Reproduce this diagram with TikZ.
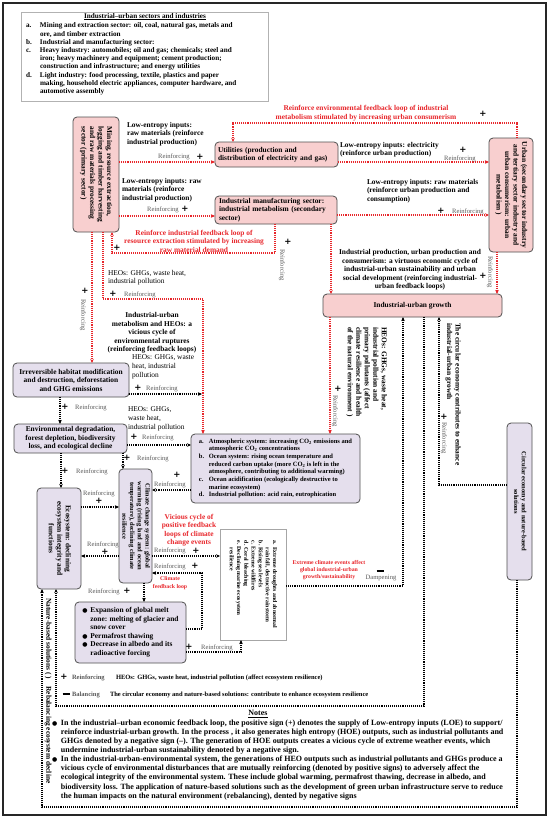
\documentclass[tikz,border=0pt]{standalone}
\usepackage{fontspec}
\setmainfont{Liberation Serif}
\newfontfamily\djv{DejaVu Sans}
\usepackage{graphicx}
\usetikzlibrary{arrows.meta}
\definecolor{rd}{HTML}{E8262B}
\definecolor{pk}{HTML}{F8CFCF}
\definecolor{lv}{HTML}{E5DFED}
\definecolor{gy}{HTML}{5A5A5A}
\definecolor{bd}{HTML}{505050}
\newcommand\fb{\fontsize{7.4}{8.5}\selectfont\bfseries}
\newcommand\fl{\fontsize{7.2}{8.2}\selectfont\bfseries}
\newcommand\fn{\fontsize{7.4}{8.8}\selectfont}
\newcommand\fre{\fontsize{6.6}{7.5}\selectfont}
\newcommand\fsm{\fontsize{6.5}{7.7}\selectfont\bfseries}
\newcommand\fxs{\fontsize{5.8}{7.2}\selectfont\bfseries}
\newcommand\fnt{\fontsize{8}{9.1}\selectfont\bfseries}
\newcommand\bul{{\djv\fontsize{6}{6}\selectfont ●}}
\newcommand\rtxt[2]{\rotatebox{-90}{\begin{tabular}{@{}#1@{}}#2\end{tabular}}}
\newcommand\dsh{\rule[2pt]{7pt}{1.3pt}}
\begin{document}
\begin{tikzpicture}[x=1pt,y=-1pt,
  every node/.style={inner sep=0pt,outer sep=0pt},
  pbox/.style={draw=bd,fill=pk,rounded corners=4pt,line width=0.8pt,font=\fb},
  lbox/.style={draw=bd,fill=lv,rounded corners=4pt,line width=0.8pt,font=\fb},
  rl/.style={draw=rd,densely dotted,line width=1.1pt,-{Stealth[length=4pt,width=3.5pt]}},
  kl/.style={draw=black,densely dotted,line width=1.1pt,-{Stealth[length=4pt,width=3.5pt]}},
  tb/.style={font=\fb,align=left},
  tc/.style={font=\fb,align=center},
  tn/.style={font=\fn,align=left},
  rf/.style={font=\fre,text=gy},
  ps/.style={font=\djv\fontsize{8.5}{8.5}\selectfont\bfseries},
  redtxt/.style={font=\fb,text=rd,align=center},
  redsm/.style={font=\fxs,text=rd,align=center}
]
\useasboundingbox (0,0) rectangle (550,820);
\fill[white] (0,0) rectangle (550,820);
\draw[line width=1.2pt,black!85] (3,3) rectangle (546,815);

% legend
\node[draw=gray!60,line width=0.8pt,minimum width=247,minimum height=89,anchor=north west] (leg) at (21,12) {};
\node[anchor=north west,font=\fl,align=left] (legtxt) at (26,13) {\makebox[238pt][c]{\underline{Industrial–urban sectors and industries}}\\[1pt]
\begin{tabular}{@{}p{14pt}@{}l@{}}a. & Mining and extraction sector: oil, coal, natural gas, metals and\\ & ore, and timber extraction\\ b. & Industrial and manufacturing sector:\\ c. & Heavy industry: automobiles; oil and gas; chemicals; steel and\\ & iron; heavy machinery and equipment; cement production;\\ & construction and infrastructure; and energy utilities\\ d. & Light industry: food processing,  textile, plastics and paper\\ & making, household electric appliances, computer hardware, and\\ & automotive assembly\end{tabular}};

% boxes
\node[pbox,minimum width=46,minimum height=115] (mining) at (96,174.5) {\rtxt{l}{Mining, resource extraction,\\logging and timber harvesting\\and raw materials processing\\sector (primary sector)}};
\node[pbox,minimum width=123,minimum height=25,text width=117,align=left] (util) at (276.5,154.5) {Utilities (production and\\distribution of electricity and gas)};
\node[pbox,minimum width=122,minimum height=28,text width=114,align=left] (mfg) at (276,210) {Industrial manufacturing sector:\\industrial metabolism (secondary\\sector)};
\node[pbox,minimum width=44,minimum height=114] (urban) at (511,195) {\rtxt{c}{Urban (secondary sector industry\\and tertiary sector industry and\\urban consumerism: urban\\metabolism )}};
\node[pbox,minimum width=179,minimum height=23] (growth) at (412.5,305.5) {Industrial-urban growth};
\node[lbox,minimum width=116,minimum height=34,align=center] (irr) at (71,380) {Irreversible habitat modification\\and destruction, deforestation\\and GHG emissions};
\node[lbox,minimum width=113,minimum height=29,align=center] (env) at (70.5,438.5) {Environmental degradation,\\forest depletion, biodiversity\\loss, and ecological decline};
\node[lbox,minimum width=169,minimum height=69,font=\fsm] (atm) at (275.5,468.5) {\begin{tabular}{@{}p{10pt}@{}l@{}}a. & Atmospheric system: increasing CO\textsubscript{2} emissions and\\ & atmospheric CO\textsubscript{2} concentrations\\ b. & Ocean system: rising ocean temperature and\\ & reduced carbon uptake (more CO\textsubscript{2}  is left in the\\ & atmosphere, contributing to additional warming)\\ c. & Ocean acidification (ecologically destructive to\\ & marine ecosystem)\\ d. & Industrial pollution: acid rain, eutrophication\end{tabular}};
\node[lbox,minimum width=44,minimum height=101] (eco) at (59,538.5) {\rtxt{c}{Ecosystem: declining\\ecosystem integrity and\\functions}};
\node[lbox,minimum width=33,minimum height=114,font=\fsm] (clim) at (135.5,526) {\rtxt{c}{Climate change system: global\\warming (rising land and ocean\\temperature), declining climate\\resilience}};
\node[lbox,minimum width=111,minimum height=61] (melt) at (130.5,632.5) {\begin{tabular}{@{}p{8pt}@{}l@{}}\bul & Expansion of global melt\\ & zone: melting of glacier and\\ & snow cover\\ \bul & Permafrost thawing\\ \bul & Decrease in albedo and its\\ & radioactive forcing\end{tabular}};
\node[lbox,minimum width=25,minimum height=157,font=\fsm] (circ) at (519.5,501.5) {\rtxt{c}{Circular economy and nature-based\\solutions}};
\node[draw=gray!70,fill=white,line width=0.8pt,minimum width=66,minimum height=111,font=\fxs] (ext) at (253,584.5) {\rtxt{l}{a. Extreme droughts and abnormal\\\hspace*{7pt}rainfall, destructive rainstorm\\b. Rising sea levels\\c. Extreme wildfires\\d. Coral bleaching\\e. Declining marine ecosystem\\\hspace*{7pt}resilience}};

% connectors
\draw[rl] (mining.east |- 0,162) -- (util.west |- 0,162);
\draw[rl] (mining.east |- 0,216) -- (mfg.west |- 0,216);
\draw[rl] (517,0 |- urban.north) -- (517,123) -- (233,123) -- (233,0 |- util.north);
\draw[rl] (util.east |- 0,162) -- (urban.west |- 0,162);
\draw[rl] (mfg.east |- 0,215) -- (urban.west |- 0,215);
\draw[rl] (275,0 |- mfg.south) -- (275,253) -- (112,253) -- (112,0 |- mining.south);
\draw[rl] (331,0 |- mfg.south) -- (331,0 |- growth.north);
\draw[rl] (497,0 |- urban.south) -- (497,0 |- growth.north);
\draw[rl] (92,0 |- mining.south) -- (92,0 |- irr.north);
\draw[rl] (103,0 |- mining.south) -- (103,299) -- (203,299) -- (203,0 |- atm.north);
\coordinate (j1) at (202,394);
\draw[kl] (irr.east |- j1) -- (j1);
\draw[kl] (60,0 |- irr.south) -- (60,0 |- env.north);
\draw[kl] (env.east |- 0,445) -- (atm.west |- 0,445);
\draw[kl] (123,0 |- env.south) -- (123,0 |- clim.north);
\draw[kl] (61,0 |- env.south) -- (61,0 |- eco.north);
\draw[kl] (atm.west |- 0,490) -- (clim.east |- 0,490);
\draw[kl] (eco.east |- 0,507) -- (clim.west |- 0,507);
\draw[kl] (clim.west |- 0,556) -- (eco.east |- 0,556);
\draw[kl] (clim.east |- 0,556) -- (ext.west |- 0,556);
\draw[kl] (melt.east |- 0,629) -- (202,629) -- (202,573) -- (clim.east |- 0,573);
\draw[kl] (144,0 |- clim.south) -- (144,0 |- melt.north);
\draw[kl] (melt.east |- 0,652) -- (241,652) -- (241,0 |- ext.south);
\draw[kl] (ext.east |- 0,586) -- (403,586) -- (403,0 |- growth.south);
\draw[rl] (330,0 |- growth.south) -- (330,0 |- atm.north);
\draw[kl] (circ.west |- 0,485) -- (439,485) -- (439,0 |- growth.south);
\draw[kl] (424,0 |- growth.south) -- (424,706) -- (56,706) -- (56,0 |- eco.south);
\draw[kl] (517,0 |- circ.south) -- (517,807) -- (42,807) -- (42,0 |- eco.south);

% labels
\node[tb,anchor=north west] (lei1) at (127,122) {Low-entropy inputs:\\raw materials (reinforce\\industrial production)};
\node[rf] (rf1) at (174,157) {Reinforcing};
\node[ps] (ps1) at (200,157) {+};
\node[tb,anchor=north west] (lei2) at (122,178) {Low-entropy inputs: raw\\materials (reinforce\\industrial production)};
\node[rf] (rf2) at (163,210) {Reinforcing};
\node[ps] (ps2) at (185,209) {+};
\node[redtxt] (red1) at (366,113) {Reinforce  environmental feedback loop of industrial\\metabolism stimulated by increasing urban  consumerism};
\node[ps] (ps3) at (483,114) {+};
\node[tb,anchor=north west] (lei3) at (340,142) {Low-entropy inputs: electricity\\(reinforce urban production)};
\node[ps] (ps4) at (463,150) {+};
\node[rf] (rf4) at (460,159) {Reinforcing};
\node[tb,anchor=north west] (lei4) at (367,179) {Low-entropy inputs: raw materials\\(reinforce urban production and\\consumption)};
\node[ps] (ps5) at (441,211) {+};
\node[rf] (rf5) at (468,212) {Reinforcing};
\node[redtxt] (red2) at (194,241) {Reinforce industrial feedback loop of\\resource extraction stimulated by increasing\\raw material demand};
\node[ps] (ps6) at (117,248) {+};
\node[ps] (ps7) at (288,242) {+};
\node[rf,rotate=-90] (rf7) at (282,265) {Reinforcing};
\node[tc] (virt) at (410,270) {Industrial production, urban production and\\consumerism:  a virtuous economic cycle of\\industrial-urban sustainability and urban\\social development (reinforcing industrial-\\urban  feedback loops)};
\node[ps] (ps8) at (483,276) {+};
\node[rf,rotate=-90] (rf8) at (490,272) {Reinforcing};
\node[tn,anchor=north west] (heo1) at (108,270) {HEOs: GHGs, waste heat,\\industrial pollution};
\node[ps] (ps9) at (113,294) {+};
\node[rf] (rf9) at (140,295) {Reinforcing};
\node[ps] (ps10) at (85,291) {+};
\node[rf,rotate=-90] (rf10) at (83,315) {Reinforcing};
\node[tc] (vic) at (152,333) {Industrial-urban\\metabolism and HEOs:  a\\vicious cycle of\\environmental ruptures\\(reinforcing feedback loops)};
\node[tn,anchor=north west] (heo2) at (132,355) {HEOs: GHGs, waste\\heat, industrial\\pollution};
\node[ps] (ps11) at (138,388) {+};
\node[rf] (rf11) at (162,389) {Reinforcing};
\node[ps] (ps12) at (65,407) {+};
\node[rf] (rf12) at (91,408) {Reinforcing};
\node[tn,anchor=north west] (heo3) at (128,407) {HEOs: GHGs,\\waste heat,\\industrial pollution};
\node[ps] (ps13) at (134,437) {+};
\node[rf] (rf13) at (158,438) {Reinforcing};
\node[ps] (ps14) at (127,458) {+};
\node[rf] (rf14) at (153,459) {Reinforcing};
\node[ps] (ps15) at (65,471) {+};
\node[rf] (rf15) at (92,472) {Reinforcing};
\node[ps] (ps16) at (177,475) {+};
\node[rf] (rf16) at (170,484.5) {Reinforcing};
\node[rf] (rf17) at (99,494) {Reinforcing};
\node[ps] (ps17) at (99,501) {+};
\node[redtxt] (redvic) at (189,530) {Vicious cycle of\\positive feedback\\loops of climate\\change events};
\node[rf] (rf18) at (103,545) {Reinforcing};
\node[ps] (ps18) at (105,552) {+};
\node[rf] (rf19) at (170,551) {Reinforcing};
\node[ps] (ps19) at (196,551) {+};
\node[rf] (rf20) at (170,567) {Reinforcing};
\node[ps] (ps20) at (195,566) {+};
\node[redsm] (redclim) at (170,583) {Climate\\feedback loop};
\node[rf] (rf21) at (104,592) {Reinforcing};
\node[ps] (ps21) at (127,591) {+};
\node[ps] (ps22) at (189,647) {+};
\node[rf] (rf22) at (217,648) {Reinforcing};
\node[redsm] (redext) at (329,570) {Extreme climate events affect\\global industrial-urban\\growth/sustainability};
\node[font=\bfseries] (m1) at (380,572) {\dsh};
\node[rf] (damp) at (381,578) {Dampening};
\node[tb,anchor=north] (heo4) at (366.5,327) {\rtxt{l}{HEOs: GHGs, waste heat,\\industrial pollution and\\primary pollutants (affect\\climate resilience and health\\of the natural environment )}};
\node[ps] (ps23) at (338,389) {+};
\node[rf,rotate=-90] (rf23) at (335,411) {Reinforcing};
\node[tb,anchor=north] (circtxt) at (453,323) {\rtxt{l}{The circular economy contributes to enhance\\industrial-urban growth}};
\node[ps] (ps24) at (444,417) {+};
\node[rf,rotate=-90] (rf24) at (444,438) {Reinforcing};
\node[tb,anchor=north] (nbs) at (48,598) {\rtxt{l}{Nature-based solutions ( )\quad Rebalancing ecosystem decline}};

% legend rows
\node[ps] (ps25) at (64,677) {+};
\node[font=\fsm,text=gy,anchor=west] (lr1) at (72,678) {Reinforcing};
\node[font=\fsm,anchor=west] (lt1) at (116,678) {HEOs: GHGs, waste heat, industrial pollution (affect ecosystem resilience)};
\node (m2) at (66,695) {\dsh};
\node[font=\fsm,text=gy,anchor=west] (lr2) at (72,695) {Balancing};
\node[font=\fsm,anchor=west] (lt2) at (110,695) {The circular economy and nature-based solutions: contribute to enhance ecosystem resilience};

% notes
\node[font=\fnt] (notes) at (258,714) {\underline{Notes}};
\node[font=\fnt,anchor=north west] (notetxt) at (52,719) {\begin{tabular}{@{}p{9pt}@{}l@{}}\bul & In the industrial–urban economic feedback loop, the positive sign (+) denotes the supply of Low-entropy inputs (LOE)  to support/\\ & reinforce industrial-urban growth. In the process , it also generates high entropy (HOE) outputs, such as industrial pollutants and\\ & GHGs denoted by a negative sign (–). The generation of HOE outputs creates a vicious cycle of extreme weather events, which\\ & undermine industrial-urban sustainability denoted by a negative sign.\\ \bul & In the industrial-urban-environmental system, the generations of HEO outputs such as industrial pollutants and GHGs  produce a\\ & vicious cycle of environmental disturbances that are mutually reinforcing (denoted by positive signs) to adversely affect the\\ & ecological integrity of the environmental system. These include global warming, permafrost thawing, decrease in albedo, and\\ & biodiversity loss. The application of nature-based solutions such as the development of green urban infrastructure serve to reduce\\ & the human impacts on the natural environment (rebalancing), dented by negative signs\end{tabular}};
\end{tikzpicture}
\end{document}
